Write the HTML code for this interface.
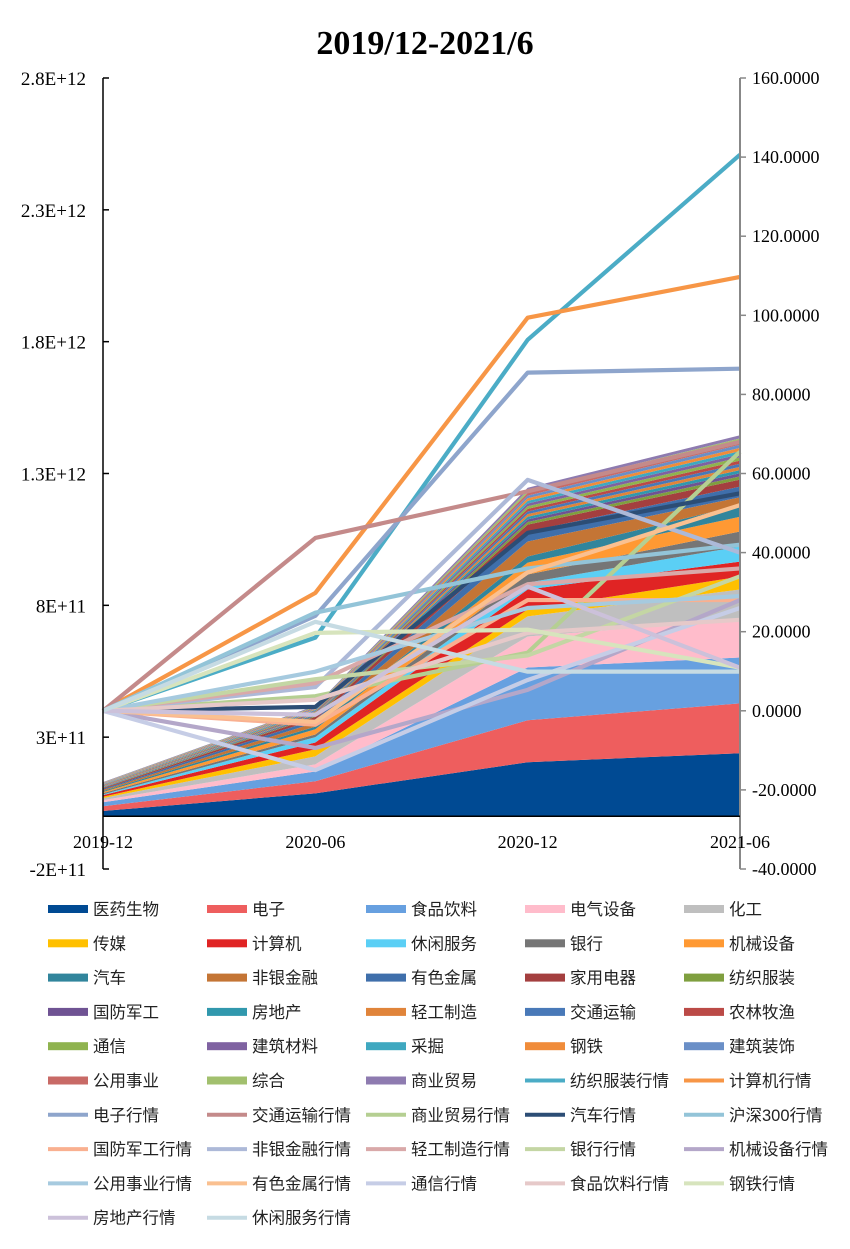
<!DOCTYPE html>
<html><head><meta charset="utf-8">
<style>
body{margin:0;background:#fff;}
svg text{font-family:"Liberation Serif","Noto Serif CJK SC",serif;}
.lg{font-family:"Liberation Sans","Noto Sans CJK SC",sans-serif;font-size:16.5px;fill:#222;}
</style></head>
<body>
<svg id="chart" width="850" height="1244" viewBox="0 0 850 1244" xmlns="http://www.w3.org/2000/svg">
<rect width="850" height="1244" fill="#fff"/>
<text x="425" y="54" text-anchor="middle" font-size="34" font-weight="bold">2019/12-2021/6</text>
<g id="areas"></g><g id="lines"></g><g id="axes"></g><g id="legend"></g>
</svg>
<script>
const categories=["2019-12","2020-06","2020-12","2021-06"];
const leftTicks=["-2E+11","3E+11","8E+11","1.3E+12","1.8E+12","2.3E+12","2.8E+12"];
const leftTickValues=[-0.2,0.3,0.8,1.3,1.8,2.3,2.8];
const rightTicks=["-40.0000","-20.0000","0.0000","20.0000","40.0000","60.0000","80.0000","100.0000","120.0000","140.0000","160.0000"];
const rightTickValues=[-40,-20,0,20,40,60,80,100,120,140,160];
const areaNames=["医药生物","电子","食品饮料","电气设备","化工","传媒","计算机","休闲服务","银行","机械设备","汽车","非银金融","有色金属","家用电器","纺织服装","国防军工","房地产","轻工制造","交通运输","农林牧渔","通信","建筑材料","采掘","钢铁","建筑装饰","公用事业","综合","商业贸易"];
const areaColors=["#004a93","#ee5e5e","#67a0e0","#ffbccb","#bfbfbf","#ffc000","#e02424","#5bcff5","#767676","#ff9933","#31859c","#c47535","#3f6fab","#a43f3f","#7f9f3f","#6f5393","#3198ad","#e0843a","#4979b8","#bb4a47","#8fb34f","#7f62a1","#3fa8c0","#f08c3a","#6a8fc7","#c86a66","#a2c06e","#8e7bb0"];
const v2019_12=[0.02,0.018,0.015,0.008,0.008,0.005,0.006,0.003,0.005,0.004,0.004,0.004,0.004,0.003,0.0016,0.0016,0.0016,0.0016,0.0016,0.0016,0.0016,0.0016,0.0016,0.0016,0.0016,0.0016,0.0016,0.0016];
const v2020_06=[0.087,0.046,0.037,0.027,0.03,0.027,0.026,0.02,0.01,0.02,0.01,0.015,0.012,0.01,0.003,0.003,0.003,0.003,0.003,0.003,0.003,0.003,0.003,0.003,0.003,0.003,0.003,0.003];
const v2020_12=[0.205,0.159,0.2,0.118,0.076,0.026,0.076,0.026,0.031,0.045,0.023,0.057,0.038,0.026,0.01,0.01,0.01,0.01,0.01,0.01,0.01,0.01,0.01,0.01,0.01,0.01,0.01,0.01];
const v2021_06=[0.239,0.189,0.174,0.144,0.114,0.049,0.057,0.057,0.057,0.056,0.044,0.03,0.04,0.027,0.012,0.012,0.012,0.012,0.012,0.012,0.012,0.012,0.012,0.012,0.012,0.012,0.012,0.012];
const lineNames=["纺织服装行情","计算机行情","电子行情","交通运输行情","商业贸易行情","汽车行情","沪深300行情","国防军工行情","非银金融行情","轻工制造行情","银行行情","机械设备行情","公用事业行情","有色金属行情","通信行情","食品饮料行情","钢铁行情","房地产行情","休闲服务行情"];
const lineColors=["#4bacc6","#f79646","#8ea5cc","#c48a8a","#b5cf92","#2c4d75","#93c4d8","#f9b090","#adb9d8","#d9a9a9","#c4d6a4","#b4a7c9","#a6cadf","#fac090","#c6cde6","#e6c9c9","#d7e4bd","#ccc1da","#c6dbe3"];
const l2019_12=[0,0,0,0,0,0,0,0,0,0,0,0,0,0,0,0,0,0,0];
const l2020_06=[18.5,29.8,24,43.7,3.7,1,24.8,-3.5,6,7,8,-9.4,9.9,-2.8,-15,2.8,19.7,-1,22.5];
const l2020_12=[93.8,99.4,85.5,55.5,14.7,45,36,28,58.4,32,14,5.3,26,35,7.8,19.7,20.5,31.4,9.9];
const l2021_06=[140.6,109.7,86.5,68,65.5,55,42,28,40,36,34,28,29,52,26,23,10.9,10.9,9.9];

const NS="http://www.w3.org/2000/svg";
const X0=103,X1=740,TOP=78,BOT=869;
const xPos=i=>X0+(X1-X0)*i/(categories.length-1);
const yL=v=>BOT-(v-(-0.2))/(3.0)*(BOT-TOP);
const yR=v=>BOT-(v-(-40))/200*(BOT-TOP);
function mk(tag,attrs,parent){const e=document.createElementNS(NS,tag);for(const k in attrs)e.setAttribute(k,attrs[k]);parent.appendChild(e);return e;}
const areasG=document.getElementById('areas'),linesG=document.getElementById('lines'),axesG=document.getElementById('axes'),legG=document.getElementById('legend');
const periods=[v2019_12,v2020_06,v2020_12,v2021_06];
let base=[0,0,0,0];
areaNames.forEach((n,k)=>{
  const top=periods.map((p,i)=>base[i]+p[k]);
  let d="";
  top.forEach((v,i)=>{d+=(i?"L":"M")+xPos(i)+","+yL(v);});
  for(let i=3;i>=0;i--)d+="L"+xPos(i)+","+yL(base[i]);
  const p=mk('path',{d:d+"Z",fill:areaColors[k]},areasG);
  
  
  base=top;
});
const lp=[l2019_12,l2020_06,l2020_12,l2021_06];
lineNames.forEach((n,k)=>{
  const pts=lp.map((p,i)=>xPos(i)+","+yR(p[k])).join(" ");
  const l=mk('polyline',{points:pts,fill:"none",stroke:lineColors[k],"stroke-width":4.2,"stroke-linejoin":"round"},linesG);
  
  
});
const la=mk('line',{x1:X0,y1:TOP,x2:X0,y2:BOT,stroke:"#000","stroke-width":1.5},axesG);


const ra=mk('line',{x1:X1,y1:TOP,x2:X1,y2:BOT,stroke:"#888","stroke-width":2},axesG);


const xa=mk('line',{x1:X0,y1:yL(0),x2:X1,y2:yL(0),stroke:"#000","stroke-width":1.5},axesG);


leftTicks.forEach((t,i)=>{
  const y=yL(leftTickValues[i]);
  mk('line',{x1:X0,y1:y,x2:X0+6,y2:y,stroke:"#000","stroke-width":1.5},axesG);
  const tx=mk('text',{x:86,y:y+7,"text-anchor":"end","font-size":19},axesG);tx.textContent=t;
  
  
});
rightTicks.forEach((t,i)=>{
  const y=yR(rightTickValues[i]);
  mk('line',{x1:X1,y1:y,x2:X1+6,y2:y,stroke:"#888","stroke-width":1.5},axesG);
  const tx=mk('text',{x:752,y:y+6,"font-size":18},axesG);tx.textContent=t;
  
  
});
categories.forEach((c,i)=>{
  const tx=mk('text',{x:xPos(i),y:848,"text-anchor":"middle","font-size":18},axesG);tx.textContent=c;
  
  
});
const allNames=areaNames.concat(lineNames),allColors=areaColors.concat(lineColors);
allNames.forEach((n,i)=>{
  const col=i%5,row=Math.floor(i/5);
  const x=48+col*159,y=909+row*34.3;
  const g=mk('g',{},legG);
  
  
  if(i<areaNames.length) mk('rect',{x:x,y:y-4,width:40,height:8,fill:allColors[i]},g);
  else mk('line',{x1:x,y1:y,x2:x+40,y2:y,stroke:allColors[i],"stroke-width":4},g);
  const t=mk('text',{x:x+45,y:y+6,class:"lg"},g);t.textContent=n;
});
</script>
</body></html>
